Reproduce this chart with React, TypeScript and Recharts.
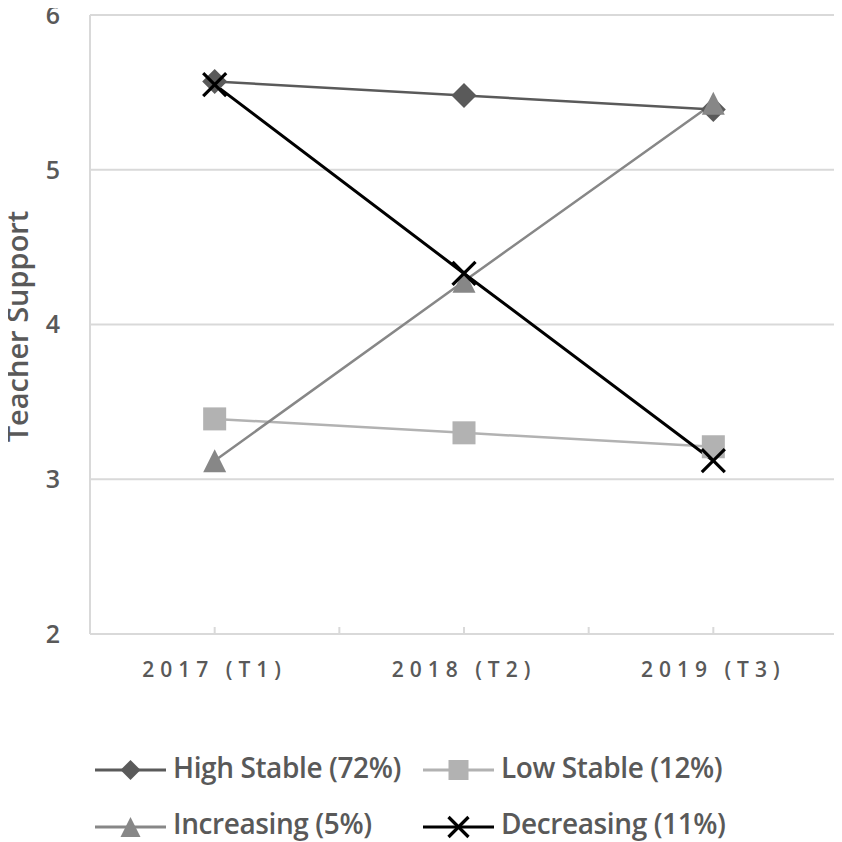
import React from 'react';
import { LineChart, Line, XAxis, YAxis, CartesianGrid, Legend } from 'recharts';

const categories = ['2017 (T1)', '2018 (T2)', '2019 (T3)'];
const highStable = [5.57, 5.48, 5.39];
const lowStable = [3.39, 3.3, 3.21];
const increasing = [3.12, 4.28, 5.43];
const decreasing = [5.55, 4.33, 3.12];
const yTicks = [2, 3, 4, 5, 6];
const xTicks = [0.5, 1, 1.5, 2, 2.5, 3, 3.5];

const seriesKeys = ['high', 'low', 'inc', 'dec'];
const seriesNames: Record<string, string> = {
  high: 'High Stable (72%)',
  low: 'Low Stable (12%)',
  inc: 'Increasing (5%)',
  dec: 'Decreasing (11%)',
};

const data = categories.map((c, i) => ({
  x: i + 1,
  label: c,
  high: highStable[i],
  low: lowStable[i],
  inc: increasing[i],
  dec: decreasing[i],
}));

const FONT = '"Open Sans", sans-serif';
const TEXT = '#595959';
const GRID = '#d9d9d9';

type Kind = 'diamond' | 'square' | 'triangle' | 'x';

const styles: Record<string, { color: string; width: number; kind: Kind }> = {
  high: { color: '#5a5a5a', width: 2.5, kind: 'diamond' },
  low: { color: '#b2b2b2', width: 2.5, kind: 'square' },
  inc: { color: '#878787', width: 2.5, kind: 'triangle' },
  dec: { color: '#000000', width: 3, kind: 'x' },
};

function Marker({ cx, cy, kind, color, size }: { cx: number; cy: number; kind: Kind; color: string; size: number }) {
  const h = size / 2;
  if (kind === 'diamond') {
    return <polygon points={`${cx},${cy - h} ${cx + h},${cy} ${cx},${cy + h} ${cx - h},${cy}`} fill={color} />;
  }
  if (kind === 'square') {
    return <rect x={cx - h} y={cy - h} width={size} height={size} fill={color} />;
  }
  if (kind === 'triangle') {
    return <polygon points={`${cx},${cy - h} ${cx + h},${cy + h} ${cx - h},${cy + h}`} fill={color} />;
  }
  return (
    <g stroke={color} strokeWidth={3.2}>
      <line x1={cx - h} y1={cy - h} x2={cx + h} y2={cy + h} />
      <line x1={cx - h} y1={cy + h} x2={cx + h} y2={cy - h} />
    </g>
  );
}

const makeDot = (key: string) => (props: any) => {
  const s = styles[key];
  const { cx, cy, index } = props;
  if (cx == null || cy == null) return <g key={`${key}-${index}`} />;
  return (
    <g key={`${key}-${index}`}>
      <Marker cx={cx} cy={cy} kind={s.kind} color={s.color} size={s.kind === 'diamond' ? 25 : 23} />
    </g>
  );
};

const LegendContent = (props: any) => {
  const payload: any[] = props.payload || [];
  const colLine = [95, 423];
  const lineLen = 71;
  const rowLine = [28, 85];
  const rowBase = [35.5, 92];
  const ordered = seriesKeys
    .map((k) => payload.find((p) => p.dataKey === k))
    .filter(Boolean);
  return (
    <svg width={842} height={100} style={{ display: 'block' }}>
      {ordered.map((p: any, i: number) => {
        const key = p.dataKey as string;
        const s = styles[key];
        const x0 = colLine[i % 2];
        const r = Math.floor(i / 2);
        return (
          <g key={key}>
            <line x1={x0} y1={rowLine[r]} x2={x0 + lineLen} y2={rowLine[r]} stroke={s.color} strokeWidth={3} />
            <Marker cx={x0 + lineLen / 2} cy={rowLine[r]} kind={s.kind} color={s.color} size={20} />
            <text
              x={x0 + lineLen + 7}
              y={rowBase[r]}
              fontFamily={FONT}
              fontSize={28}
              fontWeight={600}
              fill={TEXT}
              letterSpacing={-0.4}
            >
              {p.value}
            </text>
          </g>
        );
      })}
    </svg>
  );
};

const YTitle = (props: any) => {
  const vb = props.viewBox || { x: 0, y: 0, width: 0, height: 0 };
  const cx = 28;
  const cy = vb.y + vb.height / 2 + 2;
  return (
    <text
      x={cx}
      y={cy}
      transform={`rotate(-90 ${cx} ${cy})`}
      textAnchor="middle"
      fontFamily={FONT}
      fontSize={29}
      fontWeight={600}
      fill={TEXT}
    >
      Teacher Support
    </text>
  );
};

export default function App() {
  return (
    <div style={{ width: 842, height: 842, margin: '-8px 0 0 -8px' }}>
      <LineChart width={842} height={842} data={data} margin={{ top: 15, right: 4, bottom: 0, left: 0 }}>
        <CartesianGrid horizontal vertical={false} stroke={GRID} strokeWidth={2} />
        <XAxis
          dataKey="x"
          type="number"
          domain={[0.5, 3.5]}
          ticks={xTicks}
          allowDecimals
          height={108}
          tickFormatter={(v: number) => (Number.isInteger(v) ? categories[v - 1] : '')}
          tick={{ fontFamily: FONT, fontSize: 21, fontWeight: 600, fill: TEXT, letterSpacing: 6 }}
          tickSize={-7}
          tickMargin={35}
          tickLine={{ stroke: GRID, strokeWidth: 2 }}
          axisLine={{ stroke: GRID, strokeWidth: 2 }}
          interval={0}
        />
        <YAxis
          domain={[2, 6]}
          ticks={yTicks}
          width={90}
          tickLine={false}
          tickSize={0}
          tickMargin={30}
          axisLine={{ stroke: GRID, strokeWidth: 2 }}
          tick={{ fontFamily: FONT, fontSize: 25, fontWeight: 600, fill: TEXT }}
          label={{ content: YTitle }}
        />
        <Legend verticalAlign="bottom" align="left" height={100} content={LegendContent} />
        {seriesKeys.map((k) => (
          <Line
            key={k}
            dataKey={k}
            name={seriesNames[k]}
            stroke={styles[k].color}
            strokeWidth={styles[k].width}
            dot={makeDot(k)}
            activeDot={false}
            isAnimationActive={false}
          />
        ))}
      </LineChart>
    </div>
  );
}
